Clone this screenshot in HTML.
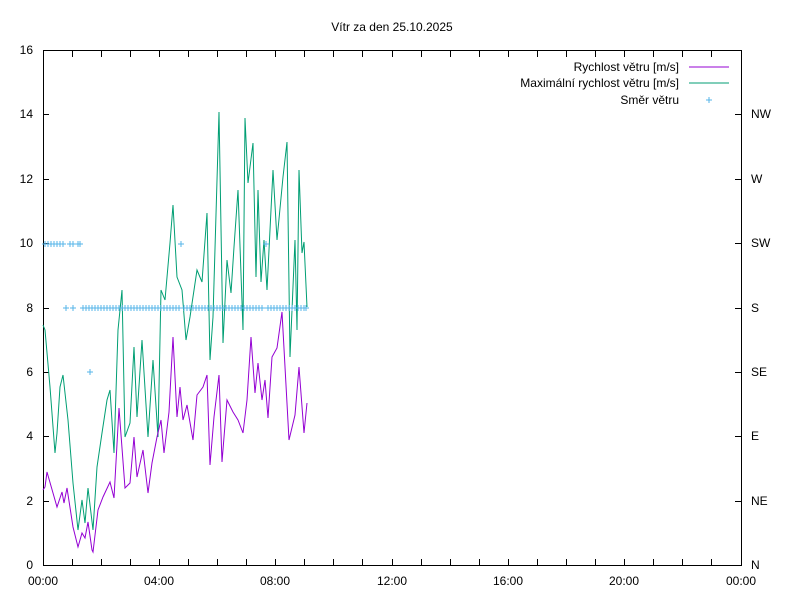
<!DOCTYPE html><html><head><style>body{margin:0;background:#fff}</style></head><body>
<svg width="800" height="600" xmlns="http://www.w3.org/2000/svg" font-family="Liberation Sans, sans-serif" font-size="12">
<rect width="800" height="600" fill="#fff"/>
<text x="392" y="31" text-anchor="middle">Vítr za den 25.10.2025</text>
<rect x="43.5" y="50.5" width="698" height="515" fill="none" stroke="#000"/>
<g stroke="#000" id="t">
<path d="M43 565.5h6M43 501.5h6M43 436.5h6M43 372.5h6M43 308.5h6M43 243.5h6M43 179.5h6M43 114.5h6M43 50.5h6"/>
<path d="M741 501.5h-6M741 436.5h-6M741 372.5h-6M741 308.5h-6M741 243.5h-6M741 179.5h-6M741 114.5h-6"/>
<path d="M72.5 565v-6M101.5 565v-6M130.5 565v-6M159.5 565v-6M188.5 565v-6M217.5 565v-6M246.5 565v-6M275.5 565v-6M304.5 565v-6M333.5 565v-6M362.5 565v-6M392.5 565v-6M421.5 565v-6M450.5 565v-6M479.5 565v-6M508.5 565v-6M537.5 565v-6M566.5 565v-6M595.5 565v-6M624.5 565v-6M653.5 565v-6M682.5 565v-6M711.5 565v-6"/>
<path d="M72.5 51v6M101.5 51v6M130.5 51v6M159.5 51v6M188.5 51v6M217.5 51v6M246.5 51v6M275.5 51v6M304.5 51v6M333.5 51v6M362.5 51v6M392.5 51v6M421.5 51v6M450.5 51v6M479.5 51v6M508.5 51v6M537.5 51v6M566.5 51v6M595.5 51v6M624.5 51v6M653.5 51v6M682.5 51v6M711.5 51v6"/>
</g>
<g text-anchor="end">
<text x="33" y="569">0</text><text x="33" y="505">2</text><text x="33" y="440">4</text><text x="33" y="376">6</text><text x="33" y="312">8</text><text x="33" y="247">10</text><text x="33" y="183">12</text><text x="33" y="118">14</text><text x="33" y="54">16</text>
</g>
<g>
<text x="751" y="569">N</text><text x="751" y="505">NE</text><text x="751" y="440">E</text><text x="751" y="376">SE</text><text x="751" y="312">S</text><text x="751" y="247">SW</text><text x="751" y="183">W</text><text x="751" y="118">NW</text>
</g>
<g text-anchor="middle">
<text x="43" y="585">00:00</text><text x="159" y="585">04:00</text><text x="275" y="585">08:00</text><text x="392" y="585">12:00</text><text x="508" y="585">16:00</text><text x="624" y="585">20:00</text><text x="741" y="585">00:00</text>
</g>
<g text-anchor="end">
<text x="679" y="71">Rychlost větru [m/s]</text>
<text x="679" y="87">Maximální rychlost větru [m/s]</text>
<text x="679" y="104">Směr větru</text>
</g>
<path d="M689 67h40" stroke="#9400d3"/>
<path d="M689 83h40" stroke="#009e73"/>
<path d="M706 100h6M709 97v6" stroke="#56b4e9"/>
<polyline fill="none" stroke="#009e73" points="43,325 45,330 50,387 55,453 57,433 60,387 63,375 68,420 73,483 78,530 82,500 85,523 88,488 93,530 97,467 102,433 107,400 110,390 114,453 118,330 122,290 125,437 130,423 134,347 137,417 142,340 148,437 153,360 158,437 161,290 165,300 170,243 173,205 177,277 182,290 186,340 190,317 197,270 202,282 207,213 210,360 213,317 219,112 223,343 227,260 231,293 234,247 238,190 243,330 245,118 248,183 253,143 256,277 258,190 261,282 264,240 267,290 273,170 277,240 283,177 287,142 290,357 295,240 297,330 299,170 302,253 304,242 307,307"/>
<polyline fill="none" stroke="#9400d3" points="43,490 45,487 47,472 53,493 57,507 62,492 64,503 67,488 73,527 78,547 82,533 85,538 88,522 92,550 93,552 98,510 103,497 110,482 114,498 119,408 125,488 130,483 134,437 137,477 143,450 148,493 152,463 157,437 161,420 164,453 169,412 173,337 177,417 180,387 183,420 187,405 193,440 197,395 203,387 207,375 210,465 214,417 219,375 222,462 227,400 233,412 238,420 243,433 247,400 251,337 255,393 258,363 262,400 265,380 268,418 272,357 277,348 282,312 289,440 295,415 299,367 304,433 307,403"/>
<g stroke="#56b4e9" id="c">
<path d="M42 244h6M45 241v6M45 244h6M48 241v6M48 244h6M51 241v6M51 244h6M54 241v6M54 244h6M57 241v6M57 244h6M60 241v6M60 244h6M63 241v6M67 244h6M70 241v6M70 244h6M73 241v6M75 244h6M78 241v6M77 244h6M80 241v6M178 244h6M181 241v6M263 244h6M266 241v6M87 372h6M90 369v6M63 308h6M66 305v6M70 308h6M73 305v6"/>
<path d="M80 308H309" />
<path d="M83 305v6M86 305v6M89 305v6M92 305v6M95 305v6M98 305v6M101 305v6M104 305v6M107 305v6M110 305v6M113 305v6M116 305v6M119 305v6M122 305v6M125 305v6M128 305v6M131 305v6M134 305v6M137 305v6M140 305v6M143 305v6M146 305v6M149 305v6M152 305v6M155 305v6M158 305v6M161 305v6M164 305v6M167 305v6M170 305v6M173 305v6M176 305v6M179 305v6M184 305v6M187 305v6M190 305v6M193 305v6M196 305v6M199 305v6M202 305v6M205 305v6M208 305v6M211 305v6M214 305v6M217 305v6M220 305v6M223 305v6M226 305v6M229 305v6M232 305v6M235 305v6M238 305v6M241 305v6M244 305v6M247 305v6M250 305v6M253 305v6M256 305v6M259 305v6M262 305v6M268 305v6M271 305v6M274 305v6M277 305v6M280 305v6M283 305v6M286 305v6M289 305v6M292 305v6M295 305v6M298 305v6M301 305v6M304 305v6M306 305v6"/>
</g>
</svg>
</body></html>
